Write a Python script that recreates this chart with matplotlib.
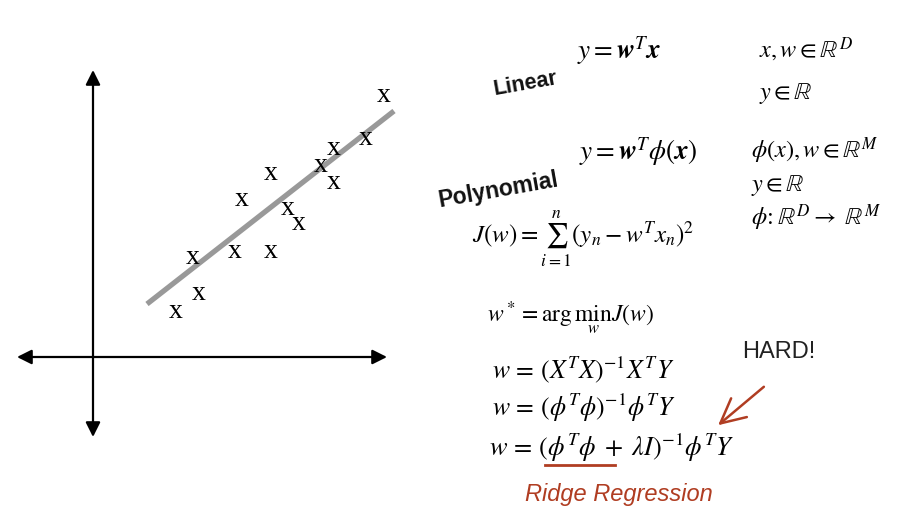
import numpy as np
import matplotlib
matplotlib.use("Agg")
import matplotlib.pyplot as plt

plt.rcParams['mathtext.fontset'] = 'stix'

# scatter points (data units, origin at the axes crossing)
pts_x = [29.1, 27.3, 24.1, 22.8, 24.1, 17.8, 14.9, 19.5, 20.6, 10.0, 14.2, 17.8, 10.6, 8.3]
pts_y = [26.2, 21.9, 20.9, 19.2, 17.5, 18.4, 15.8, 14.9, 13.4, 10.0, 10.6, 10.6, 6.4, 4.6]

# fitted line end points
fit_x = [5.4, 30.1]
fit_y = [5.3, 24.6]

# axis arrow extents
xaxis_lim = [-7.6, 29.4]
yaxis_lim = [-8.0, 28.7]

W, H = 915, 514
fig = plt.figure(figsize=(W / 100, H / 100), dpi=100)

ax = fig.add_axes([0, 0, 1, 1])
ax.set_xlim(-9.3, (W - 93) / 10)
ax.set_ylim((357 - H) / 10, 357 / 10)
ax.axis('off')

arrow = dict(arrowstyle='<|-|>', color='black', lw=1.6, mutation_scale=22,
             shrinkA=0, shrinkB=0)
ax.annotate('', xy=(xaxis_lim[1], 0), xytext=(xaxis_lim[0], 0), arrowprops=arrow)
ax.annotate('', xy=(0, yaxis_lim[1]), xytext=(0, yaxis_lim[0]), arrowprops=arrow)

ax.plot(fit_x, fit_y, color='#999999', lw=3.8, solid_capstyle='butt')
for px, py in zip(pts_x, pts_y):
    ax.text(px, py, 'x', family='Liberation Serif', fontsize=20,
            ha='center', va='center', color='black')

# text layer in pixel coordinates
tx = fig.add_axes([0, 0, 1, 1])
tx.set_xlim(0, W)
tx.set_ylim(H, 0)
tx.axis('off')
tx.patch.set_alpha(0)

rs = 17.5
tx.text(577, 50, r'$y = \boldsymbol{w}^T\boldsymbol{x}$', fontsize=19.5, va='center')
tx.text(759, 50, r'$x, w \in \mathbb{R}^D$', fontsize=rs, va='center')
tx.text(759, 94, r'$y \in \mathbb{R}$', fontsize=rs, va='center')
tx.text(526, 84, 'Linear', family='Liberation Sans', weight='bold', fontsize=15.5,
        rotation=10, ha='center', va='center', color='#111111')

tx.text(579, 151, r'$y = \boldsymbol{w}^T\phi(\boldsymbol{x})$', fontsize=19.5, va='center')
tx.text(751, 151, r'$\phi(x), w \in \mathbb{R}^M$', fontsize=rs, va='center')
tx.text(751, 186, r'$y \in \mathbb{R}$', fontsize=rs, va='center')
tx.text(751, 218, r'$\phi\!: \mathbb{R}^D \rightarrow\ \mathbb{R}^M$', fontsize=rs, va='center')
tx.text(498, 190, 'Polynomial', family='Liberation Sans', weight='bold', fontsize=16.5,
        rotation=10, ha='center', va='center', color='#111111')

tx.text(472, 240, r'$J(w) = \sum_{i=1}^{n}(y_n - w^Tx_n)^2$', fontsize=18, va='center')
tx.text(487, 318, r'$w^* = \mathrm{arg}\,\min_{w} J(w)$', fontsize=17, va='center')
tx.text(492, 370, r'$w\, =\, (X^TX)^{-1}X^TY$', fontsize=18.5, va='center')
tx.text(492, 408, r'$w\, =\, (\phi^T\phi)^{-1}\phi^TY$', fontsize=18.5, va='center')
tx.text(489, 448, r'$w\, =\, (\phi^T\phi\; +\; \lambda I)^{-1}\phi^TY$', fontsize=19, va='center')

red = '#b03d22'
tx.plot([545, 615], [465, 465], color=red, lw=2)
tx.text(619, 494, 'Ridge Regression', family='Liberation Sans', style='italic',
        fontsize=17, color=red, ha='center', va='center')
tx.text(742, 352, 'HARD!', family='Liberation Sans', fontsize=17, color='#222222', va='center')
tx.annotate('', xy=(716, 427), xytext=(766, 385),
            arrowprops=dict(arrowstyle='->, head_length=0.8, head_width=0.4',
                            color=red, lw=1.8, mutation_scale=22))

fig.savefig('out.png', dpi=100)
